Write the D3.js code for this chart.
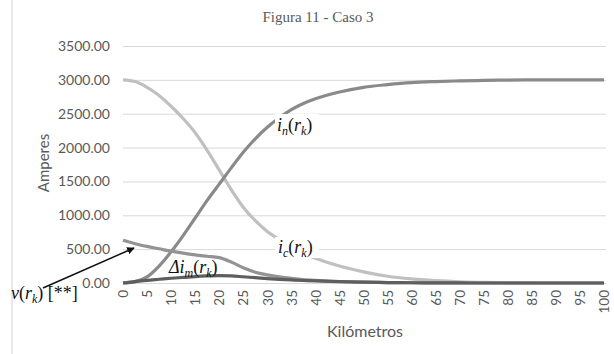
<!DOCTYPE html>
<html>
<head>
<meta charset="utf-8">
<script src="https://cdn.jsdelivr.net/npm/d3@7"></script>
<style>
  body { margin: 0; background: #fff; }
  .tick text { font-family: Lato, "Open Sans", sans-serif; fill: #595959; }
</style>
</head>
<body>
<svg width="614" height="354"></svg>
<script>
const km = [0, 2.5, 5, 7.5, 10, 12.5, 15, 17.5, 20, 22.5, 25, 27.5, 30, 32.5, 35, 37.5, 40,
  45, 50, 55, 60, 65, 70, 75, 80, 85, 90, 95, 100];

const ic = [3000, 2975, 2890, 2770, 2610, 2430, 2220, 1960, 1670, 1380, 1120, 920, 760, 640, 535, 440, 365,
  250, 165, 100, 60, 35, 18, 8, 3, 1, 0, 0, 0];
const inn = [0, 20, 90, 250, 460, 700, 960, 1220, 1460, 1700, 1930, 2130, 2300, 2440, 2560, 2650, 2720,
  2820, 2890, 2930, 2960, 2975, 2985, 2992, 2997, 3000, 3000, 3000, 3000];
const v = [630, 580, 540, 505, 470, 440, 415, 395, 375, 310, 225, 160, 120, 90, 68, 50, 38,
  22, 12, 7, 4, 2, 1, 0, 0, 0, 0, 0, 0];
const dim = [0, 20, 40, 55, 70, 82, 95, 104, 110, 105, 92, 78, 65, 54, 45, 37, 30,
  20, 12, 7, 4, 2, 1, 0, 0, 0, 0, 0, 0];

const xTicks = d3.range(0, 101, 5);
const yTicks = [0, 500, 1000, 1500, 2000, 2500, 3000, 3500];

const SERIF = "'Liberation Serif', 'DejaVu Serif', serif";

const svg = d3.select("svg");
const x = d3.scaleLinear().domain([0, 100]).range([123, 604]);
const y = d3.scaleLinear().domain([0, 3500]).range([283, 46]);

// left border line
svg.append("line")
  .attr("x1", 12).attr("x2", 12).attr("y1", 0).attr("y2", 354)
  .attr("stroke", "#d0d0d0");

svg.append("text")
  .attr("x", 318).attr("y", 22)
  .attr("text-anchor", "middle")
  .attr("font-family", SERIF)
  .attr("font-size", 15)
  .attr("fill", "#595959")
  .text("Figura  11 - Caso 3");

// y axis + grid
svg.append("g")
  .attr("transform", `translate(${x(0)},0)`)
  .call(d3.axisLeft(y).tickValues(yTicks).tickFormat(d3.format(".2f"))
    .tickSize(-(x(100) - x(0) + 2)).tickPadding(13))
  .call(g => g.select(".domain").remove())
  .call(g => g.selectAll(".tick line").attr("stroke", "#d9d9d9"))
  .call(g => g.selectAll(".tick text").attr("font-size", 14));

// x axis
svg.append("g")
  .attr("transform", `translate(0,${y(0)})`)
  .call(d3.axisBottom(x).tickValues(xTicks).tickSize(0).tickPadding(0))
  .call(g => g.select(".domain").remove())
  .call(g => g.selectAll(".tick text")
    .attr("font-size", 13.5)
    .attr("text-anchor", "end")
    .attr("dy", "0.35em")
    .attr("transform", "translate(0,7) rotate(-90)")
    .attr("y", 0).attr("x", 0));

svg.append("text")
  .attr("transform", "translate(49,163) rotate(-90)")
  .attr("text-anchor", "middle")
  .attr("font-family", "Lato, sans-serif")
  .attr("font-size", 15)
  .attr("fill", "#595959")
  .text("Amperes");

svg.append("text")
  .attr("x", 365).attr("y", 337)
  .attr("text-anchor", "middle")
  .attr("font-family", "Lato, sans-serif")
  .attr("font-size", 16)
  .attr("fill", "#595959")
  .text("Kilómetros");

const line = d3.line()
  .x((d, i) => x(km[i]))
  .y(d => y(d))
  .curve(d3.curveMonotoneX);

const series = [
  { values: ic, color: "#c0c0c0" },
  { values: inn, color: "#8a8a8a" },
  { values: v, color: "#939393" },
  { values: dim, color: "#5e5e5e" }
];

svg.append("g")
  .selectAll("path")
  .data(series)
  .join("path")
  .attr("fill", "none")
  .attr("stroke", d => d.color)
  .attr("stroke-width", 3.2)
  .attr("stroke-linejoin", "round")
  .attr("d", d => line(d.values));

// math labels
const label = (px, py, sub, pre) => {
  const t = svg.append("text")
    .attr("x", px).attr("y", py)
    .attr("font-family", SERIF)
    .attr("font-size", 18)
    .attr("fill", "#111");
  if (pre) t.append("tspan").attr("font-style", "italic").text(pre);
  t.append("tspan").attr("font-style", "italic").text("i");
  t.append("tspan").attr("font-style", "italic").attr("font-size", 12).attr("dy", 4).text(sub);
  t.append("tspan").attr("dy", -4).text("(");
  t.append("tspan").attr("font-style", "italic").text("r");
  t.append("tspan").attr("font-style", "italic").attr("font-size", 12).attr("dy", 4).text("k");
  t.append("tspan").attr("dy", -4).text(")");
  return t;
};

const bg = (x0, y0, w, h) => svg.append("rect")
  .attr("x", x0).attr("y", y0).attr("width", w).attr("height", h).attr("fill", "#fff");

bg(275, 114, 44, 22);
label(277, 131, "n");
bg(275, 237, 44, 21);
label(278, 253, "c");
label(169, 273, "m", "Δ");

// v(r_k) annotation
const vt = svg.append("text")
  .attr("x", 11).attr("y", 299)
  .attr("font-family", SERIF)
  .attr("font-size", 18)
  .attr("fill", "#111");
vt.append("tspan").attr("font-style", "italic").text("v");
vt.append("tspan").text("(");
vt.append("tspan").attr("font-style", "italic").text("r");
vt.append("tspan").attr("font-style", "italic").attr("font-size", 12).attr("dy", 4).text("k");
vt.append("tspan").attr("dy", -4).text(") [**]");

svg.append("defs").append("marker")
  .attr("id", "arr")
  .attr("viewBox", "0 0 10 10")
  .attr("refX", 9).attr("refY", 5)
  .attr("markerWidth", 5).attr("markerHeight", 5)
  .attr("orient", "auto")
  .append("path").attr("d", "M0,0 L10,5 L0,10 z").attr("fill", "#111");

svg.append("line")
  .attr("x1", 43).attr("y1", 288)
  .attr("x2", 134).attr("y2", 248)
  .attr("stroke", "#111").attr("stroke-width", 1.5)
  .attr("marker-end", "url(#arr)");
</script>
</body>
</html>
